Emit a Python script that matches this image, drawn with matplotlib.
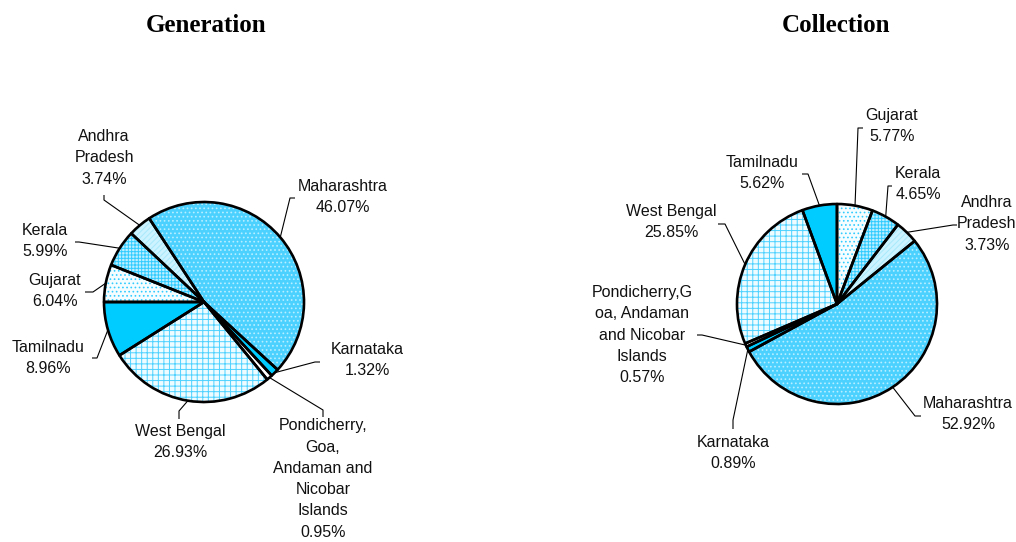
import matplotlib
matplotlib.use("Agg")
import matplotlib.pyplot as plt
import numpy as np

# ---------------- data ----------------
states = ["Gujarat", "Kerala", "Andhra Pradesh", "Maharashtra", "Karnataka",
          "Pondicherry, Goa, Andaman and Nicobar Islands", "West Bengal", "Tamilnadu"]
generation = [6.04, 5.99, 3.74, 46.07, 1.32, 0.95, 26.93, 8.96]
collection = [5.77, 4.65, 3.73, 52.92, 0.89, 0.57, 25.85, 5.62]
gen_labels = ["Gujarat", "Kerala", "Andhra\nPradesh", "Maharashtra", "Karnataka",
              "Pondicherry,\nGoa,\nAndaman and\nNicobar\nIslands", "West Bengal", "Tamilnadu"]
col_labels = ["Gujarat", "Kerala", "Andhra\nPradesh", "Maharashtra", "Karnataka",
              "Pondicherry,G\noa, Andaman\nand Nicobar\nIslands", "West Bengal", "Tamilnadu"]
titles = ["Generation", "Collection"]

# ---------------- style ----------------
fills = ['#F6FDFF', '#BDEFFF', '#CCF3FF', '#4CD1FF', '#00CCFF', '#FFFFFF', '#EEFBFF', '#00CCFF']
hatches = ['....', '+++++', '//////', '....', '', '', '+++', '']
hatch_colors = ['#33CCFF', '#33CCFF', '#A8E9FB', '#B8EEFF', '#00CCFF', '#FFFFFF', '#4DD2FF', '#00CCFF']

plt.rcParams['hatch.linewidth'] = 0.7

W, H = 1016, 542
R = 100


def Y(y):
    return H - y


fig = plt.figure(figsize=(W / 100, H / 100), dpi=100)
ax = fig.add_axes([0, 0, 1, 1])

# layout for each chart: centre, start angle, label centres, leader elbow and end points
layouts = [
    dict(center=(204, 302), start=180, values=generation, labels=gen_labels,
         title_x=206,
         text=[(55, 291), (45, 241), (104, 158), (343, 197), (367, 360), (323, 479), (180, 442), (48, 358)],
         end=[(85, 292), (75, 242), (104, 195), (295, 198), (320, 362), (323, 417), (179, 419), (92, 358)],
         elbow=[(93, 292), (79, 242), (104, 200), (290, 198), (315, 362), (323, 410), (179, 411), (97, 358)]),
    dict(center=(837, 304), start=90, values=collection, labels=col_labels,
         title_x=836,
         text=[(892, 126), (918, 184), (987, 224), (968, 414), (733, 453), (642, 335), (671, 222), (762, 173)],
         end=[(863, 128), (892, 186), (957, 225), (921, 416), (733, 429), (697, 335), (718, 224), (802, 174)],
         elbow=[(858, 128), (888, 186), (953, 225), (915, 416), (733, 420), (702, 335), (725, 224), (808, 174)]),
]

for lay, title in zip(layouts, titles):
    cx, cy = lay['center']
    vals = lay['values']
    wedges, _ = ax.pie(vals, startangle=lay['start'], counterclock=False, radius=R,
                       center=(cx, Y(cy)), frame=True, wedgeprops=dict(linewidth=0))
    for w, fc, hc, ht in zip(wedges, fills, hatch_colors, hatches):
        w.set_facecolor(fc)
        w.set_edgecolor(hc)
        w.set_linewidth(0)
        if ht:
            w.set_hatch(ht)
    ax.pie(vals, startangle=lay['start'], counterclock=False, radius=R,
           center=(cx, Y(cy)), frame=True,
           wedgeprops=dict(fill=False, edgecolor='black', linewidth=1.9, joinstyle='round'))

    for w, lab, v, tp, ep, bp in zip(wedges, lay['labels'], vals, lay['text'], lay['end'], lay['elbow']):
        th = np.deg2rad((w.theta1 + w.theta2) / 2)
        axp = (cx + R * np.cos(th), Y(cy) + R * np.sin(th))
        ax.plot([ep[0], bp[0], axp[0]], [Y(ep[1]), Y(bp[1]), axp[1]], color='black', lw=0.8,
                solid_capstyle='butt')
        ax.text(tp[0], Y(tp[1]), f"{lab}\n{v:.2f}%", ha='center', va='center',
                multialignment='center', linespacing=1.52, fontsize=11.5,
                family='Liberation Sans', color='#111111')

    ax.text(lay['title_x'], Y(25), title, ha='center', va='center', fontsize=18,
            fontweight='bold', family='Liberation Serif', color='black')

ax.set_xlim(0, W)
ax.set_ylim(0, H)
ax.set_aspect('auto')
ax.axis('off')

fig.savefig("out.png", dpi=100)
